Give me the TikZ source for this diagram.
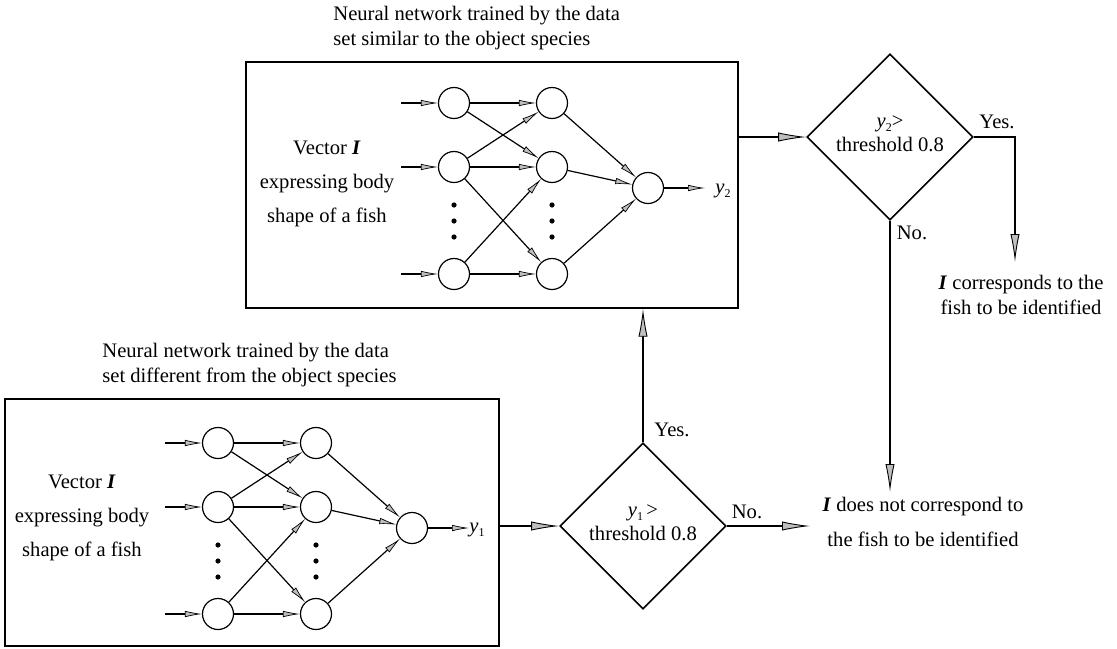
\documentclass[tikz,border=0pt]{standalone}
\usepackage{fontspec}
\setmainfont{Liberation Serif}
\usetikzlibrary{shapes.geometric,arrows.meta}

\tikzset{
  txt/.style={font=\fontsize{10.3}{12.2}\selectfont,inner sep=0pt},
  neuron/.style={circle,draw,line width=0.6pt,minimum size=15.5pt,inner sep=0pt},
  netarrow/.style={line width=0.6pt,-{Latex[length=8.5pt,width=3.2pt,fill=gray!50,line width=0.35pt]}},
  mainarrow/.style={line width=1.1pt,-{Latex[length=14pt,width=4.6pt,fill=gray!50,line width=0.45pt]}},
  mainline/.style={line width=1.1pt},
  netbox/.style={draw,line width=0.7pt,inner sep=0pt},
  decision/.style={diamond,aspect=1,draw,line width=0.8pt,minimum width=83pt,minimum height=83pt,
    inner sep=0pt,align=center,font=\fontsize{10.3}{12}\selectfont},
}

\newcommand\neuralnet{%
  \node[neuron] (a1) at (0,0) {};
  \node[neuron] (a2) at (0,64) {};
  \node[neuron] (a3) at (0,171) {};
  \node[neuron] (b1) at (98,0) {};
  \node[neuron] (b2) at (98,64) {};
  \node[neuron] (b3) at (98,171) {};
  \node[neuron] (o) at (194,85) {};
  \foreach \i/\yy in {1/0,2/64,3/171}{%
    \coordinate (in\i) at (-53,\yy);
    \draw[netarrow] (in\i) -- (a\i);}
  \foreach \s/\t in {a1/b1,a1/b2,a2/b1,a2/b2,a2/b3,a3/b2,a3/b3,b1/o,b2/o,b3/o}
    \draw[netarrow] (\s) -- (\t);
  \coordinate (out) at (251,85);
  \draw[netarrow] (o) -- (out);
  \foreach \xx in {0,98}
    \foreach \yy in {102,118,134}
      \fill (\xx,\yy) circle (1.3pt);
}

\begin{document}
\begin{tikzpicture}[x=0.5pt,y=-0.5pt]
\useasboundingbox (0,0) rectangle (1117,648);

% ---------- top network ----------
\node[txt,align=left,anchor=west] (ttitle) at (333,28)
  {Neural network trained by the data\\ set similar to the object species};
\node[netbox,minimum width=246pt,minimum height=123pt] (topbox) at (492,185) {};
\node[txt,align=center,font=\fontsize{10.3}{17}\selectfont] (tvec) at (327,184)
  {Vector \textbf{\textit{I}}\\ expressing body\\ shape of a fish};
\begin{scope}[shift={(454,103)},name prefix=t-]
  \neuralnet
\end{scope}
\node[txt,anchor=west] (y2) at (715,191) {\textit{y}\raisebox{-2pt}{\fontsize{6}{6}\selectfont 2}};

% ---------- bottom network ----------
\node[txt,align=left,anchor=west] (btitle) at (102,365)
  {Neural network trained by the data\\ set different from the object species};
\node[netbox,minimum width=247pt,minimum height=123.5pt] (botbox) at (252,522.5) {};
\node[txt,align=center,font=\fontsize{10.3}{17}\selectfont] (bvec) at (82,518)
  {Vector \textbf{\textit{I}}\\ expressing body\\ shape of a fish};
\begin{scope}[shift={(218,443)},name prefix=b-]
  \neuralnet
\end{scope}
\node[txt,anchor=west] (y1) at (469,530) {\textit{y}\raisebox{-2pt}{\fontsize{6}{6}\selectfont 1}};

% ---------- decisions ----------
\node[decision] (d1) at (643,526)
  {\raisebox{3pt}{\textit{y}\raisebox{-2pt}{\fontsize{6}{6}\selectfont 1}\,>}\\ \raisebox{3pt}{threshold 0.8}};
\node[decision] (d2) at (890,137)
  {\raisebox{3pt}{\textit{y}\raisebox{-2pt}{\fontsize{6}{6}\selectfont 2}>}\\ \raisebox{3pt}{threshold 0.8}};

% ---------- results ----------
\node[txt,align=center] (res1) at (1021,295)
  {\textbf{\textit{I}} corresponds to the\\ fish to be identified};
\node[txt,align=center,font=\fontsize{10.3}{17.5}\selectfont] (res2) at (923,522)
  {\textbf{\textit{I}} does not correspond to\\ the fish to be identified};

% ---------- connectors ----------
\draw[mainarrow] (botbox.east |- d1.west) -- (d1.west);
\draw[mainarrow] (d1.north) -- (d1.north |- topbox.south);
\coordinate (noend1) at (810,526);
\draw[mainarrow] (d1.east) -- (noend1);
\draw[mainarrow] (topbox.east |- d2.west) -- (d2.west);
\coordinate (yesend2) at (1015,262);
\draw[mainarrow] (d2.east) -| (yesend2);
\coordinate (noend2) at (890,492);
\draw[mainarrow] (d2.south) -- (noend2);

% ---------- labels ----------
\node[txt] (yes1) at (672,430) {Yes.};
\node[txt] (no1) at (747,512) {No.};
\node[txt] (yes2) at (997,122) {Yes.};
\node[txt] (no2) at (912,233) {No.};
\end{tikzpicture}
\end{document}
